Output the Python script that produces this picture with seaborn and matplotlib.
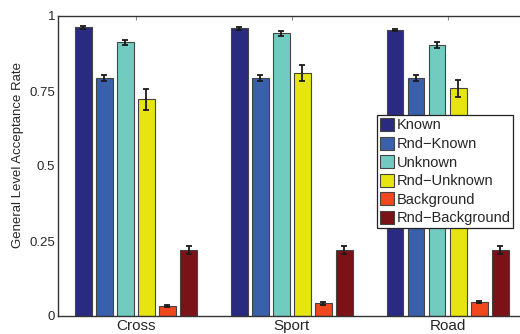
import numpy as np
import pandas as pd
import seaborn as sns
import matplotlib.pyplot as plt

categories = ['Cross', 'Sport', 'Road']
conditions = ['Known', 'Rnd\u2212Known', 'Unknown', 'Rnd\u2212Unknown', 'Background', 'Rnd\u2212Background']

# rows = condition, cols = category
rates = [
    [0.962, 0.959, 0.953],
    [0.792, 0.792, 0.792],
    [0.912, 0.942, 0.904],
    [0.722, 0.811, 0.759],
    [0.034, 0.042, 0.046],
    [0.219, 0.220, 0.221],
]
errors = [
    [0.004, 0.004, 0.004],
    [0.010, 0.010, 0.010],
    [0.007, 0.007, 0.009],
    [0.036, 0.027, 0.028],
    [0.004, 0.004, 0.004],
    [0.013, 0.013, 0.013],
]
colors = ['#2a2b80', '#3a5fab', '#72cbc1', '#e6e50f', '#f0471f', '#7a1217']

sns.set_style('white', {'xtick.direction': 'in', 'ytick.direction': 'in'})
plt.rcParams['font.family'] = ['Liberation Sans', 'DejaVu Sans']

rows = []
for cond, vals in zip(conditions, rates):
    for cat, v in zip(categories, vals):
        rows.append({'category': cat, 'condition': cond, 'rate': v})
df = pd.DataFrame(rows)

fig = plt.figure(figsize=(5.2, 3.34), dpi=100)
ax = fig.add_axes([58 / 520, 1 - 316 / 334, (525.5 - 58) / 520, 300 / 334])

sns.barplot(data=df, x='category', y='rate', hue='condition', order=categories,
            hue_order=conditions, palette=colors, width=0.81, gap=0.2,
            errorbar=None, edgecolor='#444444', linewidth=0.8, saturation=1,
            ax=ax)

for cont, errs in zip(ax.containers, errors):
    xs = [p.get_x() + p.get_width() / 2 for p in cont]
    hs = [p.get_height() for p in cont]
    ax.errorbar(xs, hs, yerr=errs, fmt='none', ecolor='#1a1a1a',
                elinewidth=1.3, capsize=2.5, capthick=1.3, zorder=5)

ax.set_xlim(-0.5, 2.5)
ax.set_ylim(0, 1)
ax.set_yticks([0, 0.25, 0.5, 0.75, 1])
ax.set_yticklabels(['0', '0.25', '0.5', '0.75', '1'])
ax.set_xlabel('')
ax.set_ylabel('General Level Acceptance Rate', fontsize=9.5)
ax.yaxis.set_label_coords(-0.073, 0.535)
ax.tick_params(axis='both', length=3, width=0.8, color='#888888',
               top=True, right=True, pad=2)
ax.tick_params(axis='x', labelsize=11)
ax.tick_params(axis='y', labelsize=9.5)
for s in ax.spines.values():
    s.set_color('#333333')
    s.set_linewidth(1.0)

handles, labels = ax.get_legend_handles_labels()
ax.legend(handles, labels, loc='upper left', bbox_to_anchor=(376.7 / 520, 1 - 115 / 334),
          bbox_transform=fig.transFigure, fontsize=10.5, frameon=True, fancybox=False,
          edgecolor='#222222', framealpha=1, borderpad=0.2, borderaxespad=0,
          handlelength=1.0, handleheight=1.0, handletextpad=0.15, labelspacing=0.28)
ax.get_legend().get_frame().set_linewidth(0.9)

fig.savefig('out.png', dpi=100)
